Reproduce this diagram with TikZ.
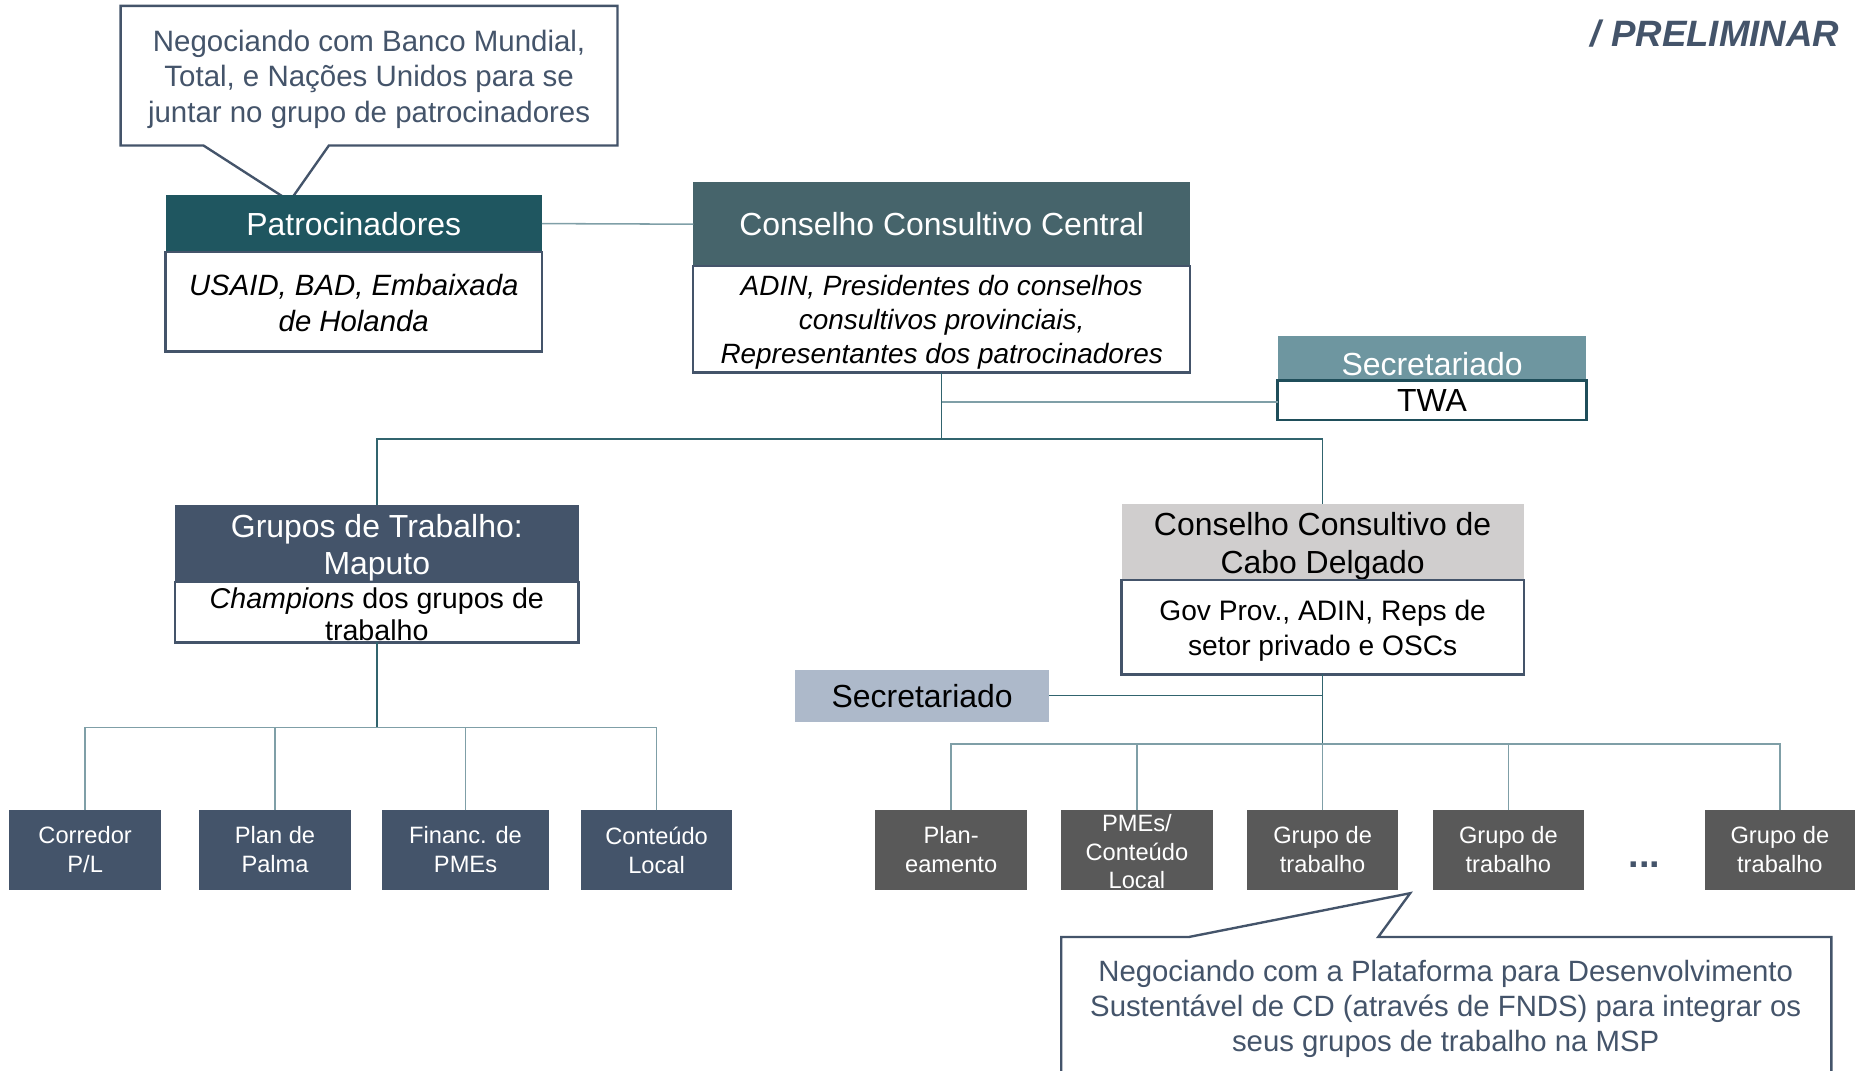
\documentclass[tikz,border=0pt]{standalone}
\usepackage{fontspec}
\setmainfont{Liberation Sans}
\definecolor{slate}{HTML}{44546A}
\definecolor{pteal}{HTML}{1F5660}
\definecolor{cccgray}{HTML}{46646B}
\definecolor{secteal}{HTML}{6E96A0}
\definecolor{twaborder}{HTML}{1F4E5A}
\definecolor{cabogray}{HTML}{D0CECE}
\definecolor{sectwo}{HTML}{ADB9CA}
\definecolor{leafgray}{HTML}{595959}
\definecolor{conncol}{HTML}{31646E}
\definecolor{connlight}{HTML}{7F9FA7}
\begin{document}
\begin{tikzpicture}[x=1pt,y=-1pt,
  hdr/.style={inner sep=0pt, outer sep=0pt, align=center, text=white, font=\fontsize{27}{32}\selectfont},
  bodyb/.style={draw=slate, line width=2pt, fill=white, inner sep=0pt, outer sep=0pt, align=center, text=black, font=\fontsize{24.8}{29}\selectfont},
  txt/.style={inner sep=0pt, outer sep=0pt, align=center},
  leaf/.style={fill=slate, text=white, inner sep=0pt, outer sep=0pt, align=center, minimum width=128pt, minimum height=67pt, font=\fontsize{20}{24.5}\selectfont},
  rleaf/.style={leaf, fill=leafgray},
  conn/.style={draw=conncol, line width=1.3pt},
  connl/.style={draw=connlight, line width=1.3pt},
  callout/.style={draw=slate, line width=2pt, fill=white, line join=miter},
  calltext/.style={align=center, text=slate, font=\fontsize{24.9}{30}\selectfont, inner sep=0pt}
]
\useasboundingbox (0,0) rectangle (1568,905);

% top callout
\draw[callout] (172,123) -- (102,123) -- (102,5) -- (522,5) -- (522,123) -- (278,123) -- (245,170) -- cycle;
\node[calltext] (c1text) at (312,67) {Negociando com Banco Mundial,\\Total, e Nações Unidos para se\\juntar no grupo de patrocinadores};

% title
\node[anchor=east, inner sep=0pt, text=slate, font=\fontsize{31}{36}\selectfont\bfseries\itshape] (prelim) at (1555,28) {/ PRELIMINAR};

% Patrocinadores
\node[hdr, fill=pteal, minimum width=318pt, minimum height=48pt] (pat) at (299,189) {Patrocinadores};
\node[bodyb, minimum width=318pt, minimum height=84pt] (patb) at (299,255) {};
\node[txt, font=\fontsize{24.8}{30}\selectfont\itshape, yshift=-1pt] (patbt) at (patb) {USAID, BAD, Embaixada\\de Holanda};

% Conselho Consultivo Central
\node[hdr, fill=cccgray, minimum width=420pt, minimum height=71pt] (ccc) at (796,189.5) {Conselho Consultivo Central};
\node[bodyb, minimum width=420pt, minimum height=90pt] (cccb) at (796,270) {};
\node[txt, font=\fontsize{23.6}{28.5}\selectfont\itshape, yshift=-2.5pt] (cccbt) at (cccb) {ADIN, Presidentes do conselhos\\consultivos provinciais,\\Representantes dos patrocinadores};

% Secretariado TWA
\node[hdr, fill=secteal, minimum width=261pt, minimum height=38pt] (sec) at (1210.5,303) {};
\node[txt, text=white, font=\fontsize{27}{32}\selectfont, yshift=-5pt] (sect) at (sec) {Secretariado};
\node[bodyb, draw=twaborder, line width=2.5pt, font=\fontsize{27}{32}\selectfont, minimum width=261pt, minimum height=33pt] (twa) at (1210.5,338.5) {TWA};

% Grupos de Trabalho Maputo
\node[hdr, fill=slate, minimum width=341pt, minimum height=65pt] (grp) at (318.5,459.5) {};
\node[txt, text=white, font=\fontsize{27}{32}\selectfont, yshift=-3.5pt] (grpt) at (grp) {Grupos de Trabalho:\\Maputo};
\node[bodyb, minimum width=341pt, minimum height=51pt] (grpb) at (318.5,517.5) {};
\node[txt, font=\fontsize{24.2}{27}\selectfont, yshift=-1.5pt] (grpbt) at (grpb) {\textit{Champions} dos grupos de\\trabalho};

% Conselho Consultivo de Cabo Delgado
\node[hdr, fill=cabogray, minimum width=340pt, minimum height=64pt] (cabo) at (1118,458) {};
\node[txt, text=black, font=\fontsize{27}{32}\selectfont, yshift=-4pt] (cabot) at (cabo) {Conselho Consultivo de\\Cabo Delgado};
\node[bodyb, minimum width=340pt, minimum height=80pt] (cabob) at (1118,530) {};
\node[txt, font=\fontsize{23.8}{29}\selectfont, yshift=-3pt] (cabobt) at (cabob) {Gov Prov., ADIN, Reps de\\setor privado e OSCs};

% lower Secretariado
\node[hdr, fill=sectwo, text=black, minimum width=215pt, minimum height=44pt] (sec2) at (779.5,588) {Secretariado};

% left leaves
\node[leaf] (l1) at (72,718.5) {Corredor\\P/L};
\node[leaf, minimum width=129pt] (l2) at (232.5,718.5) {Plan de\\Palma};
\node[leaf, minimum width=141pt] (l3) at (393.5,718.5) {Financ. de\\PMEs};
\node[leaf] (l4) at (555,718.5) {Conteúdo\\Local};

% right leaves
\node[rleaf] (r1) at (804,718.5) {Plan-\\eamento};
\node[rleaf] (r2) at (961,718.5) {};
\node[txt, text=white, font=\fontsize{20}{24}\selectfont, yshift=-1.5pt] (r2t) at (r2) {PMEs/\\Conteúdo\\Local};
\node[rleaf] (r3) at (1118,718.5) {Grupo de\\trabalho};
\node[rleaf] (r4) at (1275,718.5) {Grupo de\\trabalho};
\node[rleaf, minimum width=127pt] (r5) at (1504.5,718.5) {Grupo de\\trabalho};
\node[text=slate, inner sep=0pt, font=\fontsize{32}{34}\selectfont\bfseries] (dots) at (1390,731) {...};

% junctions
\coordinate (j1) at (796,371);
\coordinate (j2) at (796,340);
\coordinate (j3) at (318.5,615);
\coordinate (j4) at (1118,629);

% connectors
\draw[connl] (pat.east) -- (ccc.west);
\draw[conn] (cccb.south) -- (j1);
\draw[connl] (j2) -- (j2 -| twa.west);
\draw[conn] (grp.north) -- (grp.north |- j1) -- (cabo.north |- j1) -- (cabo.north);
\draw[conn] (grpb.south) -- (j3);
\draw[connl] (l1.north) |- (j3);
\draw[connl] (l4.north) |- (j3);
\draw[connl] (l2.north) -- (l2.north |- j3);
\draw[connl] (l3.north) -- (l3.north |- j3);
\draw[conn] (cabob.south) -- (j4);
\draw[conn] (sec2.east) -- (sec2.east -| cabob.south);
\draw[connl] (r1.north) |- (j4);
\draw[connl] (r5.north) |- (j4);
\draw[connl] (r2.north) -- (r2.north |- j4);
\draw[connl] (r3.north) -- (r3.north |- j4);
\draw[connl] (r4.north) -- (r4.north |- j4);

% bottom callout
\draw[callout] (897,915) -- (897,792) -- (1005,792) -- (1192,755) -- (1165,792) -- (1548,792) -- (1548,915);
\node[calltext, font=\fontsize{24.8}{29.5}\selectfont] (c2text) at (1222,852.5) {Negociando com a Plataforma para Desenvolvimento\\Sustentável de CD (através de FNDS) para integrar os\\seus grupos de trabalho na MSP};
\end{tikzpicture}
\end{document}
